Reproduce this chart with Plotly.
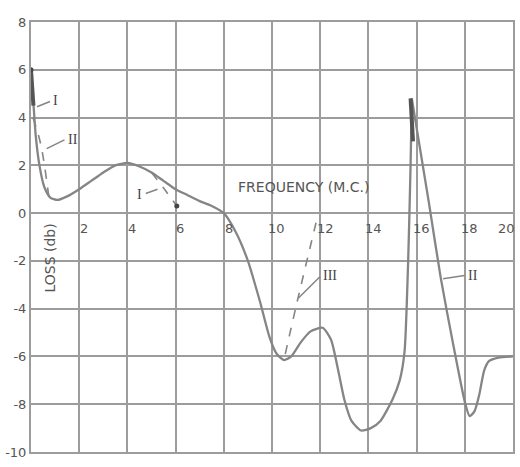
import plotly.graph_objects as go

# Main solid loss curve (frequency in M.C., loss in db)
main_x = [0, 0.1, 0.2, 0.35, 0.55, 0.8, 1.1, 1.5, 2.0, 2.5, 3.0, 3.5, 4.0, 4.5, 5.0, 5.5, 6.0, 6.5, 7.0, 7.5, 8.0,
          8.5, 9.0, 9.5, 9.9, 10.2, 10.5, 10.8, 11.2, 11.6, 12.1, 12.45, 12.75, 13.0, 13.3, 13.7, 14.1, 14.5, 15.0,
          15.3, 15.5, 15.65, 15.75, 15.8]
main_y = [6.0, 4.6, 3.2, 2.0, 1.1, 0.65, 0.55, 0.7, 1.0, 1.35, 1.7, 2.0, 2.1, 1.95, 1.7, 1.35, 1.0, 0.75, 0.5, 0.3, 0.0,
          -0.8, -2.0, -3.7, -5.2, -5.9, -6.15, -6.0, -5.4, -4.95, -4.8, -5.3, -6.6, -7.8, -8.7, -9.1, -9.0, -8.7, -7.8,
          -7.0, -5.8, -2.0, 2.0, 4.8]

# Curve II (right spike descent)
c2_x = [15.8, 16.5, 17.0, 17.5, 18.0, 18.2, 18.4, 18.6, 18.8, 19.0, 19.4, 20.0]
c2_y = [4.8, 0.5, -2.7, -5.4, -7.9, -8.5, -8.3, -7.6, -6.6, -6.2, -6.05, -6.0]

# Dashed variants
d2_x = [0.08, 0.4, 0.75]
d2_y = [4.0, 2.9, 0.6]
d1_x = [5.0, 5.5, 6.05]
d1_y = [1.7, 1.05, 0.3]
d3_x = [10.55, 11.0, 11.9]
d3_y = [-5.9, -3.9, -0.1]

# Heavy segments
h1_x = [0.0, 0.1]
h1_y = [6.0, 4.5]
h2_x = [15.75, 15.85]
h2_y = [4.8, 3.0]

x_ticks = [2, 4, 6, 8, 10, 12, 14, 16, 18, 20]
y_ticks = [8, 6, 4, 2, 0, -2, -4, -6, -8, -10]

curve_color = "#858585"
grid_color = "#9c9c9c"
text_color = "#555555"
font_family = "DejaVu Sans"

fig = go.Figure()
fig.add_trace(go.Scatter(x=main_x, y=main_y, mode="lines", line=dict(color=curve_color, width=2.3, shape="spline", smoothing=0.6)))
fig.add_trace(go.Scatter(x=c2_x, y=c2_y, mode="lines", line=dict(color=curve_color, width=2.3, shape="spline", smoothing=0.6)))
for xs, ys in [(d2_x, d2_y), (d1_x, d1_y), (d3_x, d3_y)]:
    fig.add_trace(go.Scatter(x=xs, y=ys, mode="lines", line=dict(color=curve_color, width=1.6, dash="dash", shape="spline")))
for xs, ys in [(h1_x, h1_y), (h2_x, h2_y)]:
    fig.add_trace(go.Scatter(x=xs, y=ys, mode="lines", line=dict(color="#555555", width=4)))
fig.add_trace(go.Scatter(x=[6.05, 0.0], y=[0.3, 6.0], mode="markers", marker=dict(color="#444444", size=5)))

annotations = []
for t in x_ticks:
    tx = t + 0.2 if t < 20 else t - 0.25
    annotations.append(dict(x=tx, y=-0.25, text=str(t), showarrow=False, xanchor="center", yanchor="top",
                            font=dict(size=13, color=text_color, family=font_family)))
annotations.append(dict(x=11.3, y=1.1, text="FREQUENCY (M.C.)", showarrow=False,
                        font=dict(size=14, color=text_color, family=font_family)))
annotations.append(dict(x=0.75, y=-1.9, text="LOSS (db)", showarrow=False, textangle=-90,
                        font=dict(size=14, color=text_color, family=font_family)))

labels = [
    ("I", 0.85, 4.7, 0.25, 4.45),
    ("II", 1.45, 3.1, 0.65, 2.7),
    ("I", 4.7, 0.8, 5.25, 1.0),
    ("III", 12.05, -2.6, 11.1, -3.55),
    ("II", 18.05, -2.6, 17.1, -2.75),
]
for txt, lx, ly, ax_, ay_ in labels:
    annotations.append(dict(x=ax_, y=ay_, ax=lx, ay=ly, axref="x", ayref="y", text="", showarrow=True,
                            arrowhead=0, arrowwidth=1.5, arrowcolor=curve_color))
    annotations.append(dict(x=lx, y=ly, text=txt, showarrow=False, xanchor="left" if lx > ax_ else "right",
                            font=dict(size=14, color="#444444", family="Liberation Serif")))

fig.update_layout(
    width=520, height=467,
    margin=dict(l=30, r=5, t=22, b=15),
    paper_bgcolor="white", plot_bgcolor="white",
    showlegend=False,
    annotations=annotations,
)
fig.update_xaxes(range=[0, 20], dtick=2, showgrid=True, gridcolor=grid_color, gridwidth=2,
                 showline=True, linecolor=grid_color, linewidth=2, mirror=True,
                 showticklabels=False, zeroline=False, ticks="")
fig.update_yaxes(range=[-10, 8], tickvals=y_ticks, ticktext=[str(v) for v in y_ticks], showgrid=True,
                 gridcolor=grid_color, gridwidth=2, showline=True, linecolor=grid_color, linewidth=2, mirror=True,
                 zeroline=False, ticks="", tickfont=dict(size=13, color=text_color, family=font_family))

fig.write_html("out.html")
